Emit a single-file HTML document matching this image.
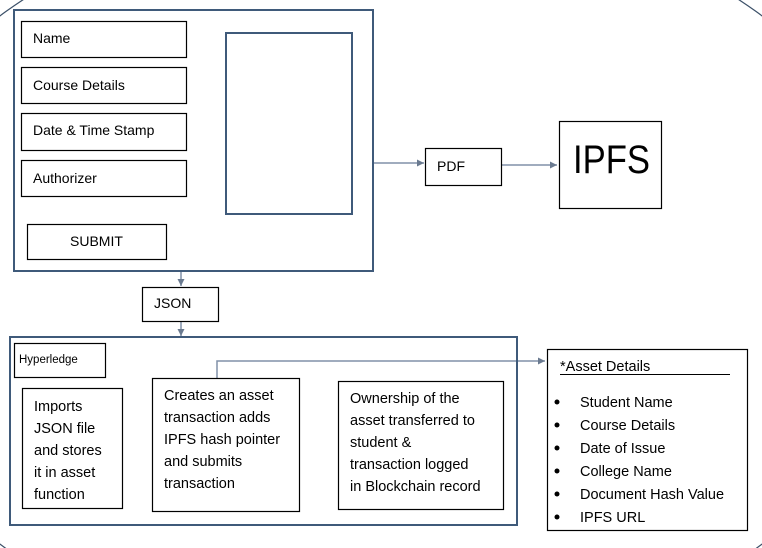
<!DOCTYPE html>
<html><head><meta charset="utf-8"><style>
html,body{margin:0;padding:0;background:#fff;width:762px;height:548px;overflow:hidden;}
svg{display:block;}
text{font-family:"Liberation Sans",Arial,sans-serif;fill:#000;}
</style></head><body>
<svg width="762" height="548" viewBox="0 0 762 548" xmlns="http://www.w3.org/2000/svg">
<defs>
<marker id="a" markerWidth="8" markerHeight="8" refX="7" refY="4" orient="auto" markerUnits="userSpaceOnUse">
<path d="M0,0.5 L7,4 L0,7.5 Z" fill="#6a7a90"/>
</marker>
</defs>
<ellipse cx="381" cy="280" rx="530" ry="380" fill="none" stroke="#3b5068" stroke-width="1.2"/>
<rect x="14" y="10" width="359" height="261" fill="#fff" stroke="#3f5a7a" stroke-width="2"/>
<g fill="#fff" stroke="#000" stroke-width="1.2">
<rect x="21.5" y="21.5" width="165" height="36"/>
<rect x="21.5" y="67.5" width="165" height="36"/>
<rect x="21.5" y="113.5" width="165" height="37"/>
<rect x="21.5" y="160.5" width="165" height="36"/>
<rect x="27.5" y="224.5" width="139" height="35"/>
</g>
<rect x="226" y="33" width="126" height="181" fill="#fff" stroke="#3f5a7a" stroke-width="2"/>
<g font-size="14">
<text x="33" y="43">Name</text>
<text x="33" y="90">Course Details</text>
<text x="33" y="135">Date &amp; Time Stamp</text>
<text x="33" y="183">Authorizer</text>
<text x="70" y="246">SUBMIT</text>
</g>
<g stroke="#8090a8" stroke-width="1.5" fill="none">
<line x1="374" y1="163" x2="424" y2="163" marker-end="url(#a)"/>
<line x1="501" y1="165" x2="557" y2="165" marker-end="url(#a)"/>
<line x1="181" y1="272" x2="181" y2="286" marker-end="url(#a)"/>
<line x1="181" y1="322" x2="181" y2="336" marker-end="url(#a)"/>
<polyline points="217,378 217,361 545,361" marker-end="url(#a)"/>
</g>
<rect x="425.5" y="148.5" width="76" height="37" fill="#fff" stroke="#000" stroke-width="1.2"/>
<text x="437" y="171" font-size="14">PDF</text>
<rect x="559.5" y="121.5" width="102" height="87" fill="#fff" stroke="#000" stroke-width="1.2"/>
<text x="573" y="173" font-size="40" textLength="77" lengthAdjust="spacingAndGlyphs">IPFS</text>
<rect x="142.5" y="287.5" width="76" height="34" fill="#fff" stroke="#000" stroke-width="1.2"/>
<text x="154" y="308" font-size="14">JSON</text>
<rect x="10" y="337" width="507" height="188" fill="none" stroke="#3f5a7a" stroke-width="2"/>
<rect x="14.5" y="343.5" width="91" height="34" fill="#fff" stroke="#000" stroke-width="1.2"/>
<text x="19" y="363" font-size="11.5">Hyperledge</text>
<g fill="#fff" stroke="#000" stroke-width="1.2">
<rect x="22.5" y="388.5" width="100" height="120"/>
<rect x="152.5" y="378.5" width="147" height="133"/>
<rect x="338.5" y="381.5" width="165" height="128"/>
<rect x="547.5" y="349.5" width="200" height="181"/>
</g>
<g font-size="14.5">
<text x="34" y="411">Imports</text>
<text x="34" y="433">JSON file</text>
<text x="34" y="455">and stores</text>
<text x="34" y="477">it in asset</text>
<text x="34" y="499">function</text>
<text x="164" y="400">Creates an asset</text>
<text x="164" y="422">transaction adds</text>
<text x="164" y="444">IPFS hash pointer</text>
<text x="164" y="466">and submits</text>
<text x="164" y="488">transaction</text>
<text x="350" y="403">Ownership of the</text>
<text x="350" y="425">asset transferred to</text>
<text x="350" y="447">student &amp;</text>
<text x="350" y="469">transaction logged</text>
<text x="350" y="491">in Blockchain record</text>
<text x="560" y="371">*Asset Details</text>
</g>
<line x1="560" y1="374.5" x2="730" y2="374.5" stroke="#000" stroke-width="1"/>
<g font-size="14.5">
<text x="580" y="407">Student Name</text>
<text x="580" y="430">Course Details</text>
<text x="580" y="453">Date of Issue</text>
<text x="580" y="476">College Name</text>
<text x="580" y="499">Document Hash Value</text>
<text x="580" y="522">IPFS URL</text>
</g>
<g fill="#000">
<circle cx="557" cy="402" r="2.5"/>
<circle cx="557" cy="425" r="2.5"/>
<circle cx="557" cy="448" r="2.5"/>
<circle cx="557" cy="471" r="2.5"/>
<circle cx="557" cy="494" r="2.5"/>
<circle cx="557" cy="517" r="2.5"/>
</g>
</svg>
</body></html>
